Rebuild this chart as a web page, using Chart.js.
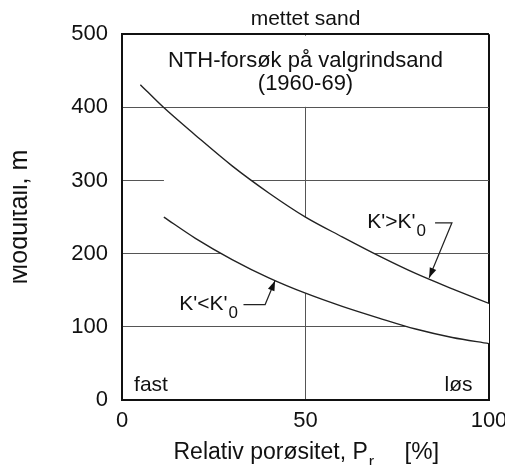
<!DOCTYPE html>
<html>
<head>
<meta charset="utf-8">
<script src="https://cdn.jsdelivr.net/npm/chart.js@4.4.1/dist/chart.umd.min.js"></script>
<style>
  html, body { margin: 0; padding: 0; background: #fff; overflow: hidden; }
  #klipp { position: absolute; left: 13px; top: 0; width: 492px; height: 465px; overflow: hidden; }
  #flate { position: absolute; left: -13px; top: 0; width: 520px; height: 465px; }
  canvas { display: block; }
</style>
</head>
<body>
<div id="klipp"><div id="flate"><canvas id="graf" width="520" height="465"></canvas></div></div>
<script>
// kurver lest av figuren (relativ porøsitet i %, modultall m)
var xOvre = [5, 11.3, 20, 30, 40, 50, 60, 70, 80, 90, 100];
var yOvre = [431, 400, 362, 320, 283, 250, 223, 197, 173, 152, 132];
var xNedre = [11.4, 20, 30, 40, 50, 60, 70, 80, 90, 100];
var yNedre = [250, 221, 192, 167, 146, 128, 112, 97, 85.5, 77];
var xTicks = [0, 50, 100];
var yTicks = [0, 100, 200, 300, 400, 500];

var FONT = '"Liberation Sans", Arial, sans-serif';
var SVART = '#111';

function punkter(xs, ys) {
    var p = [];
    for (var i in xs) p.push({x: xs[i], y: ys[i]});
    return p;
}

// tekster og piler, plassert i dataenheter
var tekster = [
    {tekst: 'NTH-forsøk på valgrindsand', x: 50, y: 455, align: 'center', str: 22},
    {tekst: '(1960-69)', x: 50, y: 424, align: 'center', str: 22},
    {tekst: 'fast', x: 3.3, y: 12.3, align: 'left', str: 21},
    {tekst: 'løs', x: 95.5, y: 12.3, align: 'right', str: 21},
    {tekst: "K'>K'", indeks: '0', x: 66.8, y: 234.6, align: 'left', str: 21},
    {tekst: "K'<K'", indeks: '0', x: 15.6, y: 123, align: 'left', str: 21}
];
var piler = [
    [[85.3, 242.2], [89.9, 242.2], [83.7, 167]],
    [[33.1, 130.5], [39.0, 130.5], [41.7, 163]]
];

function tegnPil(ctx, pts) {
    ctx.beginPath();
    ctx.moveTo(pts[0][0], pts[0][1]);
    for (var i = 1; i < pts.length; i++) ctx.lineTo(pts[i][0], pts[i][1]);
    ctx.stroke();
    var a = pts[pts.length - 2], b = pts[pts.length - 1];
    var v = Math.atan2(b[1] - a[1], b[0] - a[0]);
    var l = 10, w = 3.5;
    ctx.beginPath();
    ctx.moveTo(b[0], b[1]);
    ctx.lineTo(b[0] - l * Math.cos(v) + w * Math.sin(v), b[1] - l * Math.sin(v) - w * Math.cos(v));
    ctx.lineTo(b[0] - l * Math.cos(v) - w * Math.sin(v), b[1] - l * Math.sin(v) + w * Math.cos(v));
    ctx.closePath();
    ctx.fill();
}

var notater = {
    id: 'notater',
    beforeDatasetsDraw: function(chart) {
        // hvit felt for overskriften oppe i diagrammet
        var ctx = chart.ctx, a = chart.chartArea, y = chart.scales.y;
        ctx.save();
        ctx.fillStyle = '#fff';
        ctx.fillRect(a.left + 1.5, a.top + 1.5, a.right - a.left - 3, y.getPixelForValue(400) - a.top - 2);
        ctx.restore();
    },
    afterDatasetsDraw: function(chart) {
        var ctx = chart.ctx, x = chart.scales.x, y = chart.scales.y;
        ctx.save();
        ctx.fillStyle = SVART;
        ctx.strokeStyle = '#222';
        ctx.lineWidth = 1.2;
        ctx.textBaseline = 'alphabetic';
        for (var i in tekster) {
            var t = tekster[i];
            var px = x.getPixelForValue(t.x), py = y.getPixelForValue(t.y);
            ctx.font = t.str + 'px ' + FONT;
            ctx.textAlign = t.align;
            ctx.fillText(t.tekst, px, py);
            if (t.indeks) {
                var w = ctx.measureText(t.tekst).width;
                ctx.font = '17px ' + FONT;
                ctx.textAlign = 'left';
                ctx.fillText(t.indeks, px + w + 1, py + 8);
            }
        }
        for (var j in piler) {
            var pts = piler[j].map(function(p) { return [x.getPixelForValue(p[0]), y.getPixelForValue(p[1])]; });
            tegnPil(ctx, pts);
        }
        ctx.restore();
    },
    afterDraw: function(chart) {
        // aksetittel med senket r
        var ctx = chart.ctx, a = chart.chartArea;
        var midt = (a.left + a.right) / 2;
        var py = a.bottom + 59;
        ctx.save();
        ctx.fillStyle = SVART;
        ctx.textAlign = 'left';
        ctx.textBaseline = 'alphabetic';
        ctx.font = '23px ' + FONT;
        var start = midt - 132;
        ctx.fillText('Relativ porøsitet, P', start, py);
        var w = ctx.measureText('Relativ porøsitet, P').width;
        ctx.font = '16px ' + FONT;
        ctx.fillText('r', start + w + 1, py + 8);
        ctx.font = '24px ' + FONT;
        ctx.fillText('[%]', midt + 99, py);
        ctx.restore();
    }
};

function rutenett(kant) {
    return {
        drawTicks: false,
        color: function(c) { return c.tick && c.tick.value === kant ? SVART : '#555'; },
        lineWidth: function(c) { return c.tick && c.tick.value === kant ? 2 : 1; }
    };
}

var graf = new Chart(document.getElementById('graf'), {
    type: 'line',
    data: {
        datasets: [
            {
                label: "K'>K'0",
                data: punkter(xOvre, yOvre),
                borderColor: '#222',
                borderWidth: 1.4,
                pointRadius: 0,
                cubicInterpolationMode: 'monotone',
                fill: {target: 1, above: '#fff', below: '#fff'}
            },
            {
                label: "K'<K'0",
                data: punkter(xNedre, yNedre),
                borderColor: '#222',
                borderWidth: 1.4,
                pointRadius: 0,
                cubicInterpolationMode: 'monotone',
                fill: false
            }
        ]
    },
    options: {
        responsive: false,
        animation: false,
        layout: {padding: {left: 0, right: 31, top: 0, bottom: 0}},
        plugins: {
            legend: {display: false},
            tooltip: {enabled: false},
            filler: {drawTime: 'beforeDatasetsDraw'},
            title: {
                display: true,
                text: 'mettet sand',
                fullSize: false,
                color: SVART,
                font: {family: FONT, size: 21, weight: 'normal'},
                padding: {top: 7, bottom: 2}
            }
        },
        scales: {
            x: {
                type: 'linear',
                min: 0,
                max: 100,
                afterBuildTicks: function(s) { s.ticks = xTicks.map(function(v) { return {value: v}; }); },
                ticks: {padding: 8, color: SVART, font: {family: FONT, size: 22}},
                grid: rutenett(100),
                border: {color: SVART, width: 2},
                afterFit: function(s) { s.height = 65; }
            },
            y: {
                type: 'linear',
                min: 0,
                max: 500,
                afterBuildTicks: function(s) { s.ticks = yTicks.map(function(v) { return {value: v}; }); },
                ticks: {padding: 14, color: SVART, font: {family: FONT, size: 22}},
                grid: rutenett(500),
                border: {color: SVART, width: 2},
                title: {
                    display: true,
                    text: 'Modultall, m',
                    color: SVART,
                    font: {family: FONT, size: 25},
                    padding: {top: 5, bottom: 0}
                },
                afterFit: function(s) { s.width = 122; }
            }
        }
    },
    plugins: [notater]
});
</script>
</body>
</html>
